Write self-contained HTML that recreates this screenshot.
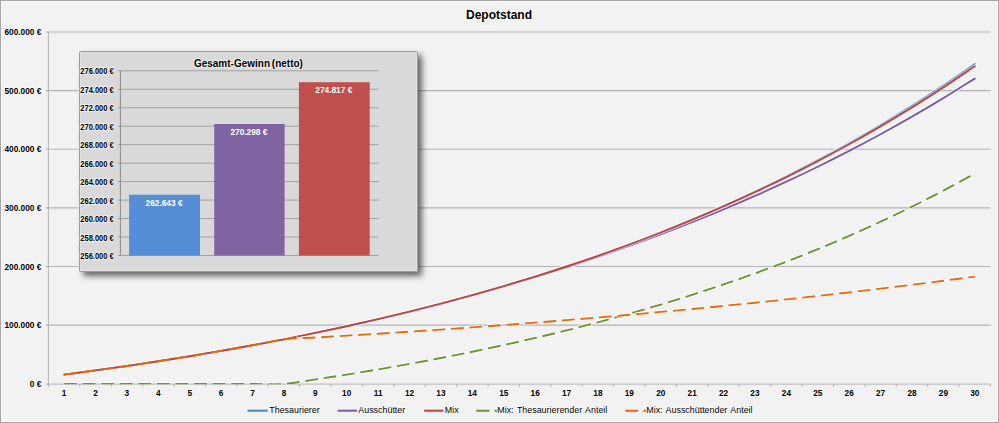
<!DOCTYPE html><html><head><meta charset="utf-8"><style>html,body{margin:0;padding:0;background:#f2f2f2;overflow:hidden}svg{display:block;}</style></head><body>
<svg width="999" height="423" viewBox="0 0 999 423" font-family="Liberation Sans, sans-serif">
<defs><filter id="sh" x="-10%" y="-10%" width="130%" height="130%"><feGaussianBlur in="SourceAlpha" stdDeviation="3.2"/><feOffset dx="4" dy="4" result="b"/><feComponentTransfer><feFuncA type="linear" slope="0.6"/></feComponentTransfer><feMerge><feMergeNode/><feMergeNode in="SourceGraphic"/></feMerge></filter><clipPath id="pc"><rect x="40" y="20" width="955" height="364.3"/></clipPath><clipPath id="oc"><rect x="296" y="20" width="700" height="364.3"/></clipPath></defs>
<rect x="0" y="0" width="999" height="423" fill="#f2f2f2"/>
<rect x="1.5" y="1.5" width="996" height="420" fill="none" stroke="#fbfbfb" stroke-width="1"/>
<rect x="0.5" y="0.5" width="998" height="422" fill="none" stroke="#a6a6a6" stroke-width="1"/>
<text transform="translate(499.00,18.60) scale(1,1)" text-anchor="middle" font-weight="bold" font-size="12" fill="#000" stroke="#ffffff" stroke-opacity="0.6" stroke-width="1.6" paint-order="stroke" stroke-linejoin="round">Depotstand</text>
<text transform="translate(41.30,386.98) scale(1,1.07)" text-anchor="end" font-weight="bold" font-size="8.3" fill="#000" stroke="#ffffff" stroke-opacity="0.6" stroke-width="1.6" paint-order="stroke" stroke-linejoin="round">0 €</text>
<line x1="45.9" y1="325.15" x2="990.5" y2="325.15" stroke="#b3b3b3" stroke-width="1.15"/>
<text transform="translate(41.30,328.35) scale(1,1.07)" text-anchor="end" font-weight="bold" font-size="8.3" fill="#000" stroke="#ffffff" stroke-opacity="0.6" stroke-width="1.6" paint-order="stroke" stroke-linejoin="round">100.000 €</text>
<line x1="45.9" y1="266.52" x2="990.5" y2="266.52" stroke="#b3b3b3" stroke-width="1.15"/>
<text transform="translate(41.30,269.72) scale(1,1.07)" text-anchor="end" font-weight="bold" font-size="8.3" fill="#000" stroke="#ffffff" stroke-opacity="0.6" stroke-width="1.6" paint-order="stroke" stroke-linejoin="round">200.000 €</text>
<line x1="45.9" y1="207.89" x2="990.5" y2="207.89" stroke="#b3b3b3" stroke-width="1.15"/>
<text transform="translate(41.30,211.09) scale(1,1.07)" text-anchor="end" font-weight="bold" font-size="8.3" fill="#000" stroke="#ffffff" stroke-opacity="0.6" stroke-width="1.6" paint-order="stroke" stroke-linejoin="round">300.000 €</text>
<line x1="45.9" y1="149.26" x2="990.5" y2="149.26" stroke="#b3b3b3" stroke-width="1.15"/>
<text transform="translate(41.30,152.46) scale(1,1.07)" text-anchor="end" font-weight="bold" font-size="8.3" fill="#000" stroke="#ffffff" stroke-opacity="0.6" stroke-width="1.6" paint-order="stroke" stroke-linejoin="round">400.000 €</text>
<line x1="45.9" y1="90.63" x2="990.5" y2="90.63" stroke="#b3b3b3" stroke-width="1.15"/>
<text transform="translate(41.30,93.83) scale(1,1.07)" text-anchor="end" font-weight="bold" font-size="8.3" fill="#000" stroke="#ffffff" stroke-opacity="0.6" stroke-width="1.6" paint-order="stroke" stroke-linejoin="round">500.000 €</text>
<line x1="45.9" y1="32.00" x2="990.5" y2="32.00" stroke="#b3b3b3" stroke-width="1.15"/>
<text transform="translate(41.30,35.20) scale(1,1.07)" text-anchor="end" font-weight="bold" font-size="8.3" fill="#000" stroke="#ffffff" stroke-opacity="0.6" stroke-width="1.6" paint-order="stroke" stroke-linejoin="round">600.000 €</text>
<line x1="48.35" y1="32.0" x2="48.35" y2="386.8" stroke="#b2b2b2" stroke-width="1"/>
<line x1="46" y1="384.1" x2="990.5" y2="384.1" stroke="#b2b2b2" stroke-width="1"/>
<line x1="48.40" y1="384.1" x2="48.40" y2="386.8" stroke="#b2b2b2" stroke-width="1"/>
<line x1="79.80" y1="384.1" x2="79.80" y2="386.8" stroke="#b2b2b2" stroke-width="1"/>
<line x1="111.21" y1="384.1" x2="111.21" y2="386.8" stroke="#b2b2b2" stroke-width="1"/>
<line x1="142.61" y1="384.1" x2="142.61" y2="386.8" stroke="#b2b2b2" stroke-width="1"/>
<line x1="174.01" y1="384.1" x2="174.01" y2="386.8" stroke="#b2b2b2" stroke-width="1"/>
<line x1="205.42" y1="384.1" x2="205.42" y2="386.8" stroke="#b2b2b2" stroke-width="1"/>
<line x1="236.82" y1="384.1" x2="236.82" y2="386.8" stroke="#b2b2b2" stroke-width="1"/>
<line x1="268.22" y1="384.1" x2="268.22" y2="386.8" stroke="#b2b2b2" stroke-width="1"/>
<line x1="299.63" y1="384.1" x2="299.63" y2="386.8" stroke="#b2b2b2" stroke-width="1"/>
<line x1="331.03" y1="384.1" x2="331.03" y2="386.8" stroke="#b2b2b2" stroke-width="1"/>
<line x1="362.43" y1="384.1" x2="362.43" y2="386.8" stroke="#b2b2b2" stroke-width="1"/>
<line x1="393.84" y1="384.1" x2="393.84" y2="386.8" stroke="#b2b2b2" stroke-width="1"/>
<line x1="425.24" y1="384.1" x2="425.24" y2="386.8" stroke="#b2b2b2" stroke-width="1"/>
<line x1="456.64" y1="384.1" x2="456.64" y2="386.8" stroke="#b2b2b2" stroke-width="1"/>
<line x1="488.05" y1="384.1" x2="488.05" y2="386.8" stroke="#b2b2b2" stroke-width="1"/>
<line x1="519.45" y1="384.1" x2="519.45" y2="386.8" stroke="#b2b2b2" stroke-width="1"/>
<line x1="550.85" y1="384.1" x2="550.85" y2="386.8" stroke="#b2b2b2" stroke-width="1"/>
<line x1="582.26" y1="384.1" x2="582.26" y2="386.8" stroke="#b2b2b2" stroke-width="1"/>
<line x1="613.66" y1="384.1" x2="613.66" y2="386.8" stroke="#b2b2b2" stroke-width="1"/>
<line x1="645.06" y1="384.1" x2="645.06" y2="386.8" stroke="#b2b2b2" stroke-width="1"/>
<line x1="676.47" y1="384.1" x2="676.47" y2="386.8" stroke="#b2b2b2" stroke-width="1"/>
<line x1="707.87" y1="384.1" x2="707.87" y2="386.8" stroke="#b2b2b2" stroke-width="1"/>
<line x1="739.27" y1="384.1" x2="739.27" y2="386.8" stroke="#b2b2b2" stroke-width="1"/>
<line x1="770.68" y1="384.1" x2="770.68" y2="386.8" stroke="#b2b2b2" stroke-width="1"/>
<line x1="802.08" y1="384.1" x2="802.08" y2="386.8" stroke="#b2b2b2" stroke-width="1"/>
<line x1="833.48" y1="384.1" x2="833.48" y2="386.8" stroke="#b2b2b2" stroke-width="1"/>
<line x1="864.89" y1="384.1" x2="864.89" y2="386.8" stroke="#b2b2b2" stroke-width="1"/>
<line x1="896.29" y1="384.1" x2="896.29" y2="386.8" stroke="#b2b2b2" stroke-width="1"/>
<line x1="927.69" y1="384.1" x2="927.69" y2="386.8" stroke="#b2b2b2" stroke-width="1"/>
<line x1="959.10" y1="384.1" x2="959.10" y2="386.8" stroke="#b2b2b2" stroke-width="1"/>
<line x1="990.50" y1="384.1" x2="990.50" y2="386.8" stroke="#b2b2b2" stroke-width="1"/>
<text transform="translate(64.10,396.40) scale(1,1.08)" text-anchor="middle" font-weight="bold" font-size="8.3" fill="#000" stroke="#ffffff" stroke-opacity="0.6" stroke-width="1.6" paint-order="stroke" stroke-linejoin="round">1</text>
<text transform="translate(95.50,396.40) scale(1,1.08)" text-anchor="middle" font-weight="bold" font-size="8.3" fill="#000" stroke="#ffffff" stroke-opacity="0.6" stroke-width="1.6" paint-order="stroke" stroke-linejoin="round">2</text>
<text transform="translate(126.91,396.40) scale(1,1.08)" text-anchor="middle" font-weight="bold" font-size="8.3" fill="#000" stroke="#ffffff" stroke-opacity="0.6" stroke-width="1.6" paint-order="stroke" stroke-linejoin="round">3</text>
<text transform="translate(158.31,396.40) scale(1,1.08)" text-anchor="middle" font-weight="bold" font-size="8.3" fill="#000" stroke="#ffffff" stroke-opacity="0.6" stroke-width="1.6" paint-order="stroke" stroke-linejoin="round">4</text>
<text transform="translate(189.72,396.40) scale(1,1.08)" text-anchor="middle" font-weight="bold" font-size="8.3" fill="#000" stroke="#ffffff" stroke-opacity="0.6" stroke-width="1.6" paint-order="stroke" stroke-linejoin="round">5</text>
<text transform="translate(221.12,396.40) scale(1,1.08)" text-anchor="middle" font-weight="bold" font-size="8.3" fill="#000" stroke="#ffffff" stroke-opacity="0.6" stroke-width="1.6" paint-order="stroke" stroke-linejoin="round">6</text>
<text transform="translate(252.52,396.40) scale(1,1.08)" text-anchor="middle" font-weight="bold" font-size="8.3" fill="#000" stroke="#ffffff" stroke-opacity="0.6" stroke-width="1.6" paint-order="stroke" stroke-linejoin="round">7</text>
<text transform="translate(283.93,396.40) scale(1,1.08)" text-anchor="middle" font-weight="bold" font-size="8.3" fill="#000" stroke="#ffffff" stroke-opacity="0.6" stroke-width="1.6" paint-order="stroke" stroke-linejoin="round">8</text>
<text transform="translate(315.33,396.40) scale(1,1.08)" text-anchor="middle" font-weight="bold" font-size="8.3" fill="#000" stroke="#ffffff" stroke-opacity="0.6" stroke-width="1.6" paint-order="stroke" stroke-linejoin="round">9</text>
<text transform="translate(346.73,396.40) scale(1,1.08)" text-anchor="middle" font-weight="bold" font-size="8.3" fill="#000" stroke="#ffffff" stroke-opacity="0.6" stroke-width="1.6" paint-order="stroke" stroke-linejoin="round">10</text>
<text transform="translate(378.13,396.40) scale(1,1.08)" text-anchor="middle" font-weight="bold" font-size="8.3" fill="#000" stroke="#ffffff" stroke-opacity="0.6" stroke-width="1.6" paint-order="stroke" stroke-linejoin="round">11</text>
<text transform="translate(409.54,396.40) scale(1,1.08)" text-anchor="middle" font-weight="bold" font-size="8.3" fill="#000" stroke="#ffffff" stroke-opacity="0.6" stroke-width="1.6" paint-order="stroke" stroke-linejoin="round">12</text>
<text transform="translate(440.94,396.40) scale(1,1.08)" text-anchor="middle" font-weight="bold" font-size="8.3" fill="#000" stroke="#ffffff" stroke-opacity="0.6" stroke-width="1.6" paint-order="stroke" stroke-linejoin="round">13</text>
<text transform="translate(472.34,396.40) scale(1,1.08)" text-anchor="middle" font-weight="bold" font-size="8.3" fill="#000" stroke="#ffffff" stroke-opacity="0.6" stroke-width="1.6" paint-order="stroke" stroke-linejoin="round">14</text>
<text transform="translate(503.75,396.40) scale(1,1.08)" text-anchor="middle" font-weight="bold" font-size="8.3" fill="#000" stroke="#ffffff" stroke-opacity="0.6" stroke-width="1.6" paint-order="stroke" stroke-linejoin="round">15</text>
<text transform="translate(535.15,396.40) scale(1,1.08)" text-anchor="middle" font-weight="bold" font-size="8.3" fill="#000" stroke="#ffffff" stroke-opacity="0.6" stroke-width="1.6" paint-order="stroke" stroke-linejoin="round">16</text>
<text transform="translate(566.55,396.40) scale(1,1.08)" text-anchor="middle" font-weight="bold" font-size="8.3" fill="#000" stroke="#ffffff" stroke-opacity="0.6" stroke-width="1.6" paint-order="stroke" stroke-linejoin="round">17</text>
<text transform="translate(597.96,396.40) scale(1,1.08)" text-anchor="middle" font-weight="bold" font-size="8.3" fill="#000" stroke="#ffffff" stroke-opacity="0.6" stroke-width="1.6" paint-order="stroke" stroke-linejoin="round">18</text>
<text transform="translate(629.36,396.40) scale(1,1.08)" text-anchor="middle" font-weight="bold" font-size="8.3" fill="#000" stroke="#ffffff" stroke-opacity="0.6" stroke-width="1.6" paint-order="stroke" stroke-linejoin="round">19</text>
<text transform="translate(660.76,396.40) scale(1,1.08)" text-anchor="middle" font-weight="bold" font-size="8.3" fill="#000" stroke="#ffffff" stroke-opacity="0.6" stroke-width="1.6" paint-order="stroke" stroke-linejoin="round">20</text>
<text transform="translate(692.17,396.40) scale(1,1.08)" text-anchor="middle" font-weight="bold" font-size="8.3" fill="#000" stroke="#ffffff" stroke-opacity="0.6" stroke-width="1.6" paint-order="stroke" stroke-linejoin="round">21</text>
<text transform="translate(723.57,396.40) scale(1,1.08)" text-anchor="middle" font-weight="bold" font-size="8.3" fill="#000" stroke="#ffffff" stroke-opacity="0.6" stroke-width="1.6" paint-order="stroke" stroke-linejoin="round">22</text>
<text transform="translate(754.97,396.40) scale(1,1.08)" text-anchor="middle" font-weight="bold" font-size="8.3" fill="#000" stroke="#ffffff" stroke-opacity="0.6" stroke-width="1.6" paint-order="stroke" stroke-linejoin="round">23</text>
<text transform="translate(786.38,396.40) scale(1,1.08)" text-anchor="middle" font-weight="bold" font-size="8.3" fill="#000" stroke="#ffffff" stroke-opacity="0.6" stroke-width="1.6" paint-order="stroke" stroke-linejoin="round">24</text>
<text transform="translate(817.78,396.40) scale(1,1.08)" text-anchor="middle" font-weight="bold" font-size="8.3" fill="#000" stroke="#ffffff" stroke-opacity="0.6" stroke-width="1.6" paint-order="stroke" stroke-linejoin="round">25</text>
<text transform="translate(849.18,396.40) scale(1,1.08)" text-anchor="middle" font-weight="bold" font-size="8.3" fill="#000" stroke="#ffffff" stroke-opacity="0.6" stroke-width="1.6" paint-order="stroke" stroke-linejoin="round">26</text>
<text transform="translate(880.59,396.40) scale(1,1.08)" text-anchor="middle" font-weight="bold" font-size="8.3" fill="#000" stroke="#ffffff" stroke-opacity="0.6" stroke-width="1.6" paint-order="stroke" stroke-linejoin="round">27</text>
<text transform="translate(911.99,396.40) scale(1,1.08)" text-anchor="middle" font-weight="bold" font-size="8.3" fill="#000" stroke="#ffffff" stroke-opacity="0.6" stroke-width="1.6" paint-order="stroke" stroke-linejoin="round">28</text>
<text transform="translate(943.39,396.40) scale(1,1.08)" text-anchor="middle" font-weight="bold" font-size="8.3" fill="#000" stroke="#ffffff" stroke-opacity="0.6" stroke-width="1.6" paint-order="stroke" stroke-linejoin="round">29</text>
<text transform="translate(974.80,396.40) scale(1,1.08)" text-anchor="middle" font-weight="bold" font-size="8.3" fill="#000" stroke="#ffffff" stroke-opacity="0.6" stroke-width="1.6" paint-order="stroke" stroke-linejoin="round">30</text>
<g clip-path="url(#pc)">
<path d="M64.10,374.63 C69.34,373.93 85.04,371.87 95.50,370.43 C105.97,368.98 116.44,367.50 126.91,365.97 C137.38,364.43 147.84,362.86 158.31,361.24 C168.78,359.61 179.25,357.94 189.72,356.22 C200.18,354.50 210.65,352.73 221.12,350.91 C231.59,349.08 242.05,347.21 252.52,345.27 C262.99,343.33 273.46,341.35 283.93,339.29 C294.39,337.24 304.86,335.13 315.33,332.96 C325.80,330.78 336.26,328.55 346.73,326.24 C357.20,323.93 367.67,321.57 378.13,319.12 C388.60,316.68 399.07,314.16 409.54,311.57 C420.01,308.98 430.47,306.31 440.94,303.57 C451.41,300.82 461.88,297.99 472.34,295.08 C482.81,292.16 493.28,289.17 503.75,286.08 C514.22,282.98 524.68,279.81 535.15,276.53 C545.62,273.25 556.09,269.88 566.55,266.41 C577.02,262.93 587.49,259.36 597.96,255.68 C608.43,251.99 618.89,248.21 629.36,244.30 C639.83,240.39 650.30,236.38 660.76,232.24 C671.23,228.09 681.70,223.84 692.17,219.45 C702.64,215.06 713.10,210.55 723.57,205.90 C734.04,201.24 744.51,196.46 754.97,191.53 C765.44,186.60 775.91,181.53 786.38,176.31 C796.85,171.08 807.31,165.71 817.78,160.18 C828.25,154.64 838.72,148.95 849.18,143.09 C859.65,137.22 870.12,131.20 880.59,124.98 C891.06,118.77 901.52,112.38 911.99,105.80 C922.46,99.22 932.93,92.46 943.39,85.49 C953.86,78.51 969.56,67.56 974.80,63.97" fill="none" stroke="#ffffff" stroke-opacity="0.55" stroke-width="3.85" stroke-linecap="round" stroke-linejoin="round"/>
<path d="M64.10,374.63 C69.34,373.93 85.04,371.87 95.50,370.43 C105.97,368.98 116.44,367.50 126.91,365.97 C137.38,364.43 147.84,362.86 158.31,361.24 C168.78,359.61 179.25,357.94 189.72,356.22 C200.18,354.50 210.65,352.73 221.12,350.91 C231.59,349.08 242.05,347.21 252.52,345.27 C262.99,343.33 273.46,341.35 283.93,339.29 C294.39,337.24 304.86,335.13 315.33,332.96 C325.80,330.78 336.26,328.55 346.73,326.24 C357.20,323.93 367.67,321.57 378.13,319.12 C388.60,316.68 399.07,314.16 409.54,311.57 C420.01,308.98 430.47,306.31 440.94,303.57 C451.41,300.82 461.88,297.99 472.34,295.08 C482.81,292.16 493.28,289.17 503.75,286.08 C514.22,282.98 524.68,279.81 535.15,276.53 C545.62,273.25 556.09,269.88 566.55,266.41 C577.02,262.93 587.49,259.36 597.96,255.68 C608.43,251.99 618.89,248.21 629.36,244.30 C639.83,240.39 650.30,236.38 660.76,232.24 C671.23,228.09 681.70,223.84 692.17,219.45 C702.64,215.06 713.10,210.55 723.57,205.90 C734.04,201.24 744.51,196.46 754.97,191.53 C765.44,186.60 775.91,181.53 786.38,176.31 C796.85,171.08 807.31,165.71 817.78,160.18 C828.25,154.64 838.72,148.95 849.18,143.09 C859.65,137.22 870.12,131.20 880.59,124.98 C891.06,118.77 901.52,112.38 911.99,105.80 C922.46,99.22 932.93,92.46 943.39,85.49 C953.86,78.51 969.56,67.56 974.80,63.97" fill="none" stroke="#4484d4" stroke-width="1.85" stroke-linecap="round" stroke-linejoin="round"/>
<path d="M64.10,374.63 C69.34,373.93 85.04,371.87 95.50,370.43 C105.97,368.98 116.44,367.50 126.91,365.97 C137.38,364.43 147.84,362.86 158.31,361.24 C168.78,359.61 179.25,357.94 189.72,356.22 C200.18,354.50 210.65,352.73 221.12,350.91 C231.59,349.08 242.05,347.21 252.52,345.27 C262.99,343.33 273.46,341.35 283.93,339.29 C294.39,337.24 304.86,335.13 315.33,332.96 C325.80,330.78 336.26,328.55 346.73,326.25 C357.20,323.95 367.67,321.58 378.13,319.15 C388.60,316.71 399.07,314.21 409.54,311.64 C420.01,309.06 430.47,306.42 440.94,303.70 C451.41,300.98 461.88,298.19 472.34,295.32 C482.81,292.45 493.28,289.50 503.75,286.47 C514.22,283.44 524.68,280.33 535.15,277.14 C545.62,273.94 556.09,270.66 566.55,267.29 C577.02,263.92 587.49,260.46 597.96,256.91 C608.43,253.35 618.89,249.71 629.36,245.96 C639.83,242.21 650.30,238.37 660.76,234.42 C671.23,230.47 681.70,226.43 692.17,222.26 C702.64,218.10 713.10,213.83 723.57,209.45 C734.04,205.06 744.51,200.57 754.97,195.94 C765.44,191.32 775.91,186.58 786.38,181.71 C796.85,176.84 807.31,171.85 817.78,166.71 C828.25,161.58 838.72,156.32 849.18,150.90 C859.65,145.49 870.12,139.94 880.59,134.24 C891.06,128.53 901.52,122.69 911.99,116.67 C922.46,110.65 932.93,104.49 943.39,98.14 C953.86,91.80 969.56,81.86 974.80,78.61" fill="none" stroke="#ffffff" stroke-opacity="0.55" stroke-width="3.85" stroke-linecap="round" stroke-linejoin="round"/>
<path d="M64.10,374.63 C69.34,373.93 85.04,371.87 95.50,370.43 C105.97,368.98 116.44,367.50 126.91,365.97 C137.38,364.43 147.84,362.86 158.31,361.24 C168.78,359.61 179.25,357.94 189.72,356.22 C200.18,354.50 210.65,352.73 221.12,350.91 C231.59,349.08 242.05,347.21 252.52,345.27 C262.99,343.33 273.46,341.35 283.93,339.29 C294.39,337.24 304.86,335.13 315.33,332.96 C325.80,330.78 336.26,328.55 346.73,326.25 C357.20,323.95 367.67,321.58 378.13,319.15 C388.60,316.71 399.07,314.21 409.54,311.64 C420.01,309.06 430.47,306.42 440.94,303.70 C451.41,300.98 461.88,298.19 472.34,295.32 C482.81,292.45 493.28,289.50 503.75,286.47 C514.22,283.44 524.68,280.33 535.15,277.14 C545.62,273.94 556.09,270.66 566.55,267.29 C577.02,263.92 587.49,260.46 597.96,256.91 C608.43,253.35 618.89,249.71 629.36,245.96 C639.83,242.21 650.30,238.37 660.76,234.42 C671.23,230.47 681.70,226.43 692.17,222.26 C702.64,218.10 713.10,213.83 723.57,209.45 C734.04,205.06 744.51,200.57 754.97,195.94 C765.44,191.32 775.91,186.58 786.38,181.71 C796.85,176.84 807.31,171.85 817.78,166.71 C828.25,161.58 838.72,156.32 849.18,150.90 C859.65,145.49 870.12,139.94 880.59,134.24 C891.06,128.53 901.52,122.69 911.99,116.67 C922.46,110.65 932.93,104.49 943.39,98.14 C953.86,91.80 969.56,81.86 974.80,78.61" fill="none" stroke="#7b5aa6" stroke-width="1.85" stroke-linecap="round" stroke-linejoin="round"/>
<path d="M64.10,374.63 C69.34,373.93 85.04,371.87 95.50,370.43 C105.97,368.98 116.44,367.50 126.91,365.97 C137.38,364.43 147.84,362.86 158.31,361.24 C168.78,359.61 179.25,357.94 189.72,356.22 C200.18,354.50 210.65,352.73 221.12,350.91 C231.59,349.08 242.05,347.21 252.52,345.27 C262.99,343.33 273.46,341.35 283.93,339.29 C294.39,337.24 304.86,335.13 315.33,332.96 C325.80,330.78 336.26,328.55 346.73,326.24 C357.20,323.93 367.67,321.57 378.13,319.12 C388.60,316.68 399.07,314.16 409.54,311.57 C420.01,308.98 430.47,306.32 440.94,303.57 C451.41,300.83 461.88,298.00 472.34,295.09 C482.81,292.18 493.28,289.19 503.75,286.11 C514.22,283.03 524.68,279.86 535.15,276.59 C545.62,273.32 556.09,269.97 566.55,266.50 C577.02,263.04 587.49,259.49 597.96,255.82 C608.43,252.15 618.89,248.38 629.36,244.50 C639.83,240.61 650.30,236.63 660.76,232.51 C671.23,228.40 681.70,224.17 692.17,219.82 C702.64,215.46 713.10,210.98 723.57,206.37 C734.04,201.76 744.51,197.02 754.97,192.14 C765.44,187.25 775.91,182.23 786.38,177.06 C796.85,171.89 807.31,166.58 817.78,161.11 C828.25,155.63 838.72,150.01 849.18,144.21 C859.65,138.42 870.12,132.47 880.59,126.33 C891.06,120.20 901.52,113.90 911.99,107.41 C922.46,100.91 932.93,94.24 943.39,87.37 C953.86,80.50 969.56,69.70 974.80,66.17" fill="none" stroke="#ffffff" stroke-opacity="0.55" stroke-width="3.85" stroke-linecap="round" stroke-linejoin="round"/>
<path d="M64.10,374.63 C69.34,373.93 85.04,371.87 95.50,370.43 C105.97,368.98 116.44,367.50 126.91,365.97 C137.38,364.43 147.84,362.86 158.31,361.24 C168.78,359.61 179.25,357.94 189.72,356.22 C200.18,354.50 210.65,352.73 221.12,350.91 C231.59,349.08 242.05,347.21 252.52,345.27 C262.99,343.33 273.46,341.35 283.93,339.29 C294.39,337.24 304.86,335.13 315.33,332.96 C325.80,330.78 336.26,328.55 346.73,326.24 C357.20,323.93 367.67,321.57 378.13,319.12 C388.60,316.68 399.07,314.16 409.54,311.57 C420.01,308.98 430.47,306.32 440.94,303.57 C451.41,300.83 461.88,298.00 472.34,295.09 C482.81,292.18 493.28,289.19 503.75,286.11 C514.22,283.03 524.68,279.86 535.15,276.59 C545.62,273.32 556.09,269.97 566.55,266.50 C577.02,263.04 587.49,259.49 597.96,255.82 C608.43,252.15 618.89,248.38 629.36,244.50 C639.83,240.61 650.30,236.63 660.76,232.51 C671.23,228.40 681.70,224.17 692.17,219.82 C702.64,215.46 713.10,210.98 723.57,206.37 C734.04,201.76 744.51,197.02 754.97,192.14 C765.44,187.25 775.91,182.23 786.38,177.06 C796.85,171.89 807.31,166.58 817.78,161.11 C828.25,155.63 838.72,150.01 849.18,144.21 C859.65,138.42 870.12,132.47 880.59,126.33 C891.06,120.20 901.52,113.90 911.99,107.41 C922.46,100.91 932.93,94.24 943.39,87.37 C953.86,80.50 969.56,69.70 974.80,66.17" fill="none" stroke="#c0443f" stroke-width="1.85" stroke-linecap="round" stroke-linejoin="round"/>
<path d="M64.10,384.00 C69.34,384.00 85.04,384.00 95.50,384.00 C105.97,384.00 116.44,384.00 126.91,384.00 C137.38,384.00 147.84,384.00 158.31,384.00 C168.78,384.00 179.25,384.00 189.72,384.00 C200.18,384.00 210.65,384.00 221.12,384.00 C231.59,384.00 242.05,384.00 252.52,384.00 C262.99,384.00 273.46,384.76 283.93,384.00 C294.39,383.24 304.86,380.99 315.33,379.41 C325.80,377.84 336.26,376.24 346.73,374.57 C357.20,372.90 367.67,371.18 378.13,369.40 C388.60,367.62 399.07,365.78 409.54,363.89 C420.01,361.99 430.47,360.03 440.94,358.01 C451.41,355.99 461.88,353.90 472.34,351.75 C482.81,349.59 493.28,347.37 503.75,345.07 C514.22,342.77 524.68,340.41 535.15,337.96 C545.62,335.51 556.09,332.99 566.55,330.38 C577.02,327.77 587.49,325.09 597.96,322.31 C608.43,319.53 618.89,316.67 629.36,313.71 C639.83,310.76 650.30,307.71 660.76,304.56 C671.23,301.41 681.70,298.17 692.17,294.82 C702.64,291.46 713.10,288.01 723.57,284.44 C734.04,280.87 744.51,277.20 754.97,273.40 C765.44,269.60 775.91,265.69 786.38,261.65 C796.85,257.61 807.31,253.45 817.78,249.15 C828.25,244.84 838.72,240.42 849.18,235.84 C859.65,231.27 870.12,226.56 880.59,221.69 C891.06,216.82 901.52,211.81 911.99,206.63 C922.46,201.45 932.93,196.13 943.39,190.62 C953.86,185.11 969.56,176.43 974.80,173.59" fill="none" stroke="#ffffff" stroke-opacity="0.55" stroke-width="3.85" stroke-dasharray="14.8 3.77" stroke-dashoffset="1" stroke-linecap="butt"/>
<path d="M64.10,384.00 C69.34,384.00 85.04,384.00 95.50,384.00 C105.97,384.00 116.44,384.00 126.91,384.00 C137.38,384.00 147.84,384.00 158.31,384.00 C168.78,384.00 179.25,384.00 189.72,384.00 C200.18,384.00 210.65,384.00 221.12,384.00 C231.59,384.00 242.05,384.00 252.52,384.00 C262.99,384.00 273.46,384.76 283.93,384.00 C294.39,383.24 304.86,380.99 315.33,379.41 C325.80,377.84 336.26,376.24 346.73,374.57 C357.20,372.90 367.67,371.18 378.13,369.40 C388.60,367.62 399.07,365.78 409.54,363.89 C420.01,361.99 430.47,360.03 440.94,358.01 C451.41,355.99 461.88,353.90 472.34,351.75 C482.81,349.59 493.28,347.37 503.75,345.07 C514.22,342.77 524.68,340.41 535.15,337.96 C545.62,335.51 556.09,332.99 566.55,330.38 C577.02,327.77 587.49,325.09 597.96,322.31 C608.43,319.53 618.89,316.67 629.36,313.71 C639.83,310.76 650.30,307.71 660.76,304.56 C671.23,301.41 681.70,298.17 692.17,294.82 C702.64,291.46 713.10,288.01 723.57,284.44 C734.04,280.87 744.51,277.20 754.97,273.40 C765.44,269.60 775.91,265.69 786.38,261.65 C796.85,257.61 807.31,253.45 817.78,249.15 C828.25,244.84 838.72,240.42 849.18,235.84 C859.65,231.27 870.12,226.56 880.59,221.69 C891.06,216.82 901.52,211.81 911.99,206.63 C922.46,201.45 932.93,196.13 943.39,190.62 C953.86,185.11 969.56,176.43 974.80,173.59" fill="none" stroke="#6f9232" stroke-width="1.85" stroke-dasharray="12.8 5.77" stroke-linecap="butt"/>
<path clip-path="url(#oc)" d="M64.10,374.63 C69.34,373.93 85.04,371.87 95.50,370.43 C105.97,368.98 116.44,367.50 126.91,365.97 C137.38,364.43 147.84,362.86 158.31,361.24 C168.78,359.61 179.25,357.94 189.72,356.22 C200.18,354.50 210.65,352.73 221.12,350.91 C231.59,349.08 242.05,347.21 252.52,345.27 C262.99,343.33 273.46,340.58 283.93,339.29 C294.39,338.01 304.86,338.15 315.33,337.54 C325.80,336.94 336.26,336.31 346.73,335.67 C357.20,335.04 367.67,334.39 378.13,333.72 C388.60,333.06 399.07,332.38 409.54,331.69 C420.01,330.99 430.47,330.29 440.94,329.56 C451.41,328.84 461.88,328.10 472.34,327.35 C482.81,326.60 493.28,325.83 503.75,325.04 C514.22,324.25 524.68,323.45 535.15,322.63 C545.62,321.81 556.09,320.98 566.55,320.12 C577.02,319.27 587.49,318.40 597.96,317.51 C608.43,316.62 618.89,315.71 629.36,314.78 C639.83,313.86 650.30,312.91 660.76,311.95 C671.23,310.99 681.70,310.00 692.17,309.00 C702.64,307.99 713.10,306.97 723.57,305.93 C734.04,304.88 744.51,303.82 754.97,302.73 C765.44,301.65 775.91,300.54 786.38,299.41 C796.85,298.28 807.31,297.13 817.78,295.96 C828.25,294.79 838.72,293.59 849.18,292.37 C859.65,291.15 870.12,289.91 880.59,288.64 C891.06,287.38 901.52,286.09 911.99,284.77 C922.46,283.46 932.93,282.12 943.39,280.75 C953.86,279.39 969.56,277.28 974.80,276.58" fill="none" stroke="#ffffff" stroke-opacity="0.55" stroke-width="3.85" stroke-dasharray="14.8 3.77" stroke-dashoffset="1" stroke-linecap="butt"/>
<path d="M64.10,374.63 C69.34,373.93 85.04,371.87 95.50,370.43 C105.97,368.98 116.44,367.50 126.91,365.97 C137.38,364.43 147.84,362.86 158.31,361.24 C168.78,359.61 179.25,357.94 189.72,356.22 C200.18,354.50 210.65,352.73 221.12,350.91 C231.59,349.08 242.05,347.21 252.52,345.27 C262.99,343.33 273.46,340.58 283.93,339.29 C294.39,338.01 304.86,338.15 315.33,337.54 C325.80,336.94 336.26,336.31 346.73,335.67 C357.20,335.04 367.67,334.39 378.13,333.72 C388.60,333.06 399.07,332.38 409.54,331.69 C420.01,330.99 430.47,330.29 440.94,329.56 C451.41,328.84 461.88,328.10 472.34,327.35 C482.81,326.60 493.28,325.83 503.75,325.04 C514.22,324.25 524.68,323.45 535.15,322.63 C545.62,321.81 556.09,320.98 566.55,320.12 C577.02,319.27 587.49,318.40 597.96,317.51 C608.43,316.62 618.89,315.71 629.36,314.78 C639.83,313.86 650.30,312.91 660.76,311.95 C671.23,310.99 681.70,310.00 692.17,309.00 C702.64,307.99 713.10,306.97 723.57,305.93 C734.04,304.88 744.51,303.82 754.97,302.73 C765.44,301.65 775.91,300.54 786.38,299.41 C796.85,298.28 807.31,297.13 817.78,295.96 C828.25,294.79 838.72,293.59 849.18,292.37 C859.65,291.15 870.12,289.91 880.59,288.64 C891.06,287.38 901.52,286.09 911.99,284.77 C922.46,283.46 932.93,282.12 943.39,280.75 C953.86,279.39 969.56,277.28 974.80,276.58" fill="none" stroke="#e46c0a" stroke-width="1.85" stroke-dasharray="12.8 5.77" stroke-linecap="butt"/>
</g>
<line x1="247.5" y1="410.7" x2="267.8" y2="410.7" stroke="#4484d4" stroke-width="2.0"/>
<text transform="translate(269.30,413.20) scale(1,1.08)" font-size="8.9" fill="#000" stroke="#ffffff" stroke-opacity="0.6" stroke-width="1.6" paint-order="stroke" stroke-linejoin="round" word-spacing="1">Thesaurierer</text>
<line x1="337.6" y1="410.7" x2="357.1" y2="410.7" stroke="#7b5aa6" stroke-width="2.0"/>
<text transform="translate(358.30,413.20) scale(1,1.08)" font-size="8.9" fill="#000" stroke="#ffffff" stroke-opacity="0.6" stroke-width="1.6" paint-order="stroke" stroke-linejoin="round" word-spacing="1">Ausschütter</text>
<line x1="424.1" y1="410.7" x2="443.4" y2="410.7" stroke="#c0443f" stroke-width="2.0"/>
<text transform="translate(444.80,413.20) scale(1,1.08)" font-size="8.9" fill="#000" stroke="#ffffff" stroke-opacity="0.6" stroke-width="1.6" paint-order="stroke" stroke-linejoin="round" word-spacing="1">Mix</text>
<line x1="476.4" y1="410.7" x2="497.6" y2="410.7" stroke="#6f9232" stroke-width="2.0" stroke-dasharray="13 5.2"/>
<text transform="translate(497.30,413.20) scale(1,1.08)" font-size="8.9" fill="#000" stroke="#ffffff" stroke-opacity="0.6" stroke-width="1.6" paint-order="stroke" stroke-linejoin="round" word-spacing="1">Mix: Thesaurierender Anteil</text>
<line x1="625.2" y1="410.7" x2="646.4" y2="410.7" stroke="#e46c0a" stroke-width="2.0" stroke-dasharray="13 5.2"/>
<text transform="translate(646.30,413.20) scale(1,1.08)" font-size="8.9" fill="#000" stroke="#ffffff" stroke-opacity="0.6" stroke-width="1.6" paint-order="stroke" stroke-linejoin="round" word-spacing="1">Mix: Ausschüttender Anteil</text>
<rect x="78.5" y="50.5" width="340" height="222" fill="none" stroke="#fafafa" stroke-width="1"/>
<g filter="url(#sh)"><rect x="79.5" y="51.5" width="338" height="220" rx="1" fill="#d9d9d9" stroke="#9a9a9a" stroke-width="1"/></g>
<rect x="80.5" y="52.5" width="336" height="218" fill="none" stroke="#e2e2e2" stroke-width="1"/>
<text transform="translate(248.40,66.80) scale(1,1)" text-anchor="middle" font-weight="bold" font-size="10" fill="#000" stroke="#ffffff" stroke-opacity="0.6" stroke-width="1.6" paint-order="stroke" stroke-linejoin="round" word-spacing="-1">Gesamt-Gewinn (netto)</text>
<line x1="117.9" y1="255.50" x2="378.6" y2="255.50" stroke="#a0a0a0" stroke-width="1"/>
<text transform="translate(113.80,259.00) scale(1,1.15)" text-anchor="end" font-weight="bold" font-size="7.55" fill="#000" stroke="#ffffff" stroke-opacity="0.6" stroke-width="1.6" paint-order="stroke" stroke-linejoin="round">256.000 €</text>
<line x1="117.9" y1="237.03" x2="378.6" y2="237.03" stroke="#a0a0a0" stroke-width="1"/>
<text transform="translate(113.80,240.53) scale(1,1.15)" text-anchor="end" font-weight="bold" font-size="7.55" fill="#000" stroke="#ffffff" stroke-opacity="0.6" stroke-width="1.6" paint-order="stroke" stroke-linejoin="round">258.000 €</text>
<line x1="117.9" y1="218.56" x2="378.6" y2="218.56" stroke="#a0a0a0" stroke-width="1"/>
<text transform="translate(113.80,222.06) scale(1,1.15)" text-anchor="end" font-weight="bold" font-size="7.55" fill="#000" stroke="#ffffff" stroke-opacity="0.6" stroke-width="1.6" paint-order="stroke" stroke-linejoin="round">260.000 €</text>
<line x1="117.9" y1="200.09" x2="378.6" y2="200.09" stroke="#a0a0a0" stroke-width="1"/>
<text transform="translate(113.80,203.59) scale(1,1.15)" text-anchor="end" font-weight="bold" font-size="7.55" fill="#000" stroke="#ffffff" stroke-opacity="0.6" stroke-width="1.6" paint-order="stroke" stroke-linejoin="round">262.000 €</text>
<line x1="117.9" y1="181.62" x2="378.6" y2="181.62" stroke="#a0a0a0" stroke-width="1"/>
<text transform="translate(113.80,185.12) scale(1,1.15)" text-anchor="end" font-weight="bold" font-size="7.55" fill="#000" stroke="#ffffff" stroke-opacity="0.6" stroke-width="1.6" paint-order="stroke" stroke-linejoin="round">264.000 €</text>
<line x1="117.9" y1="163.15" x2="378.6" y2="163.15" stroke="#a0a0a0" stroke-width="1"/>
<text transform="translate(113.80,166.65) scale(1,1.15)" text-anchor="end" font-weight="bold" font-size="7.55" fill="#000" stroke="#ffffff" stroke-opacity="0.6" stroke-width="1.6" paint-order="stroke" stroke-linejoin="round">266.000 €</text>
<line x1="117.9" y1="144.68" x2="378.6" y2="144.68" stroke="#a0a0a0" stroke-width="1"/>
<text transform="translate(113.80,148.18) scale(1,1.15)" text-anchor="end" font-weight="bold" font-size="7.55" fill="#000" stroke="#ffffff" stroke-opacity="0.6" stroke-width="1.6" paint-order="stroke" stroke-linejoin="round">268.000 €</text>
<line x1="117.9" y1="126.21" x2="378.6" y2="126.21" stroke="#a0a0a0" stroke-width="1"/>
<text transform="translate(113.80,129.71) scale(1,1.15)" text-anchor="end" font-weight="bold" font-size="7.55" fill="#000" stroke="#ffffff" stroke-opacity="0.6" stroke-width="1.6" paint-order="stroke" stroke-linejoin="round">270.000 €</text>
<line x1="117.9" y1="107.74" x2="378.6" y2="107.74" stroke="#a0a0a0" stroke-width="1"/>
<text transform="translate(113.80,111.24) scale(1,1.15)" text-anchor="end" font-weight="bold" font-size="7.55" fill="#000" stroke="#ffffff" stroke-opacity="0.6" stroke-width="1.6" paint-order="stroke" stroke-linejoin="round">272.000 €</text>
<line x1="117.9" y1="89.27" x2="378.6" y2="89.27" stroke="#a0a0a0" stroke-width="1"/>
<text transform="translate(113.80,92.77) scale(1,1.15)" text-anchor="end" font-weight="bold" font-size="7.55" fill="#000" stroke="#ffffff" stroke-opacity="0.6" stroke-width="1.6" paint-order="stroke" stroke-linejoin="round">274.000 €</text>
<line x1="117.9" y1="70.80" x2="378.6" y2="70.80" stroke="#a0a0a0" stroke-width="1"/>
<text transform="translate(113.80,74.30) scale(1,1.15)" text-anchor="end" font-weight="bold" font-size="7.55" fill="#000" stroke="#ffffff" stroke-opacity="0.6" stroke-width="1.6" paint-order="stroke" stroke-linejoin="round">276.000 €</text>
<line x1="120.4" y1="70.8" x2="120.4" y2="255.5" stroke="#8c8c8c" stroke-width="1"/>
<rect x="129.1" y="194.7" width="70.9" height="60.8" fill="#558ed5"/>
<text transform="translate(164.05,205.65) scale(1,1.1)" text-anchor="middle" font-weight="bold" font-size="8.3" fill="#fff">262.643 €</text>
<rect x="214.2" y="124.0" width="70.4" height="131.5" fill="#8064a2"/>
<text transform="translate(248.90,134.96) scale(1,1.1)" text-anchor="middle" font-weight="bold" font-size="8.3" fill="#fff">270.298 €</text>
<rect x="298.9" y="82.2" width="70.8" height="173.3" fill="#c0504d"/>
<text transform="translate(333.80,93.23) scale(1,1.1)" text-anchor="middle" font-weight="bold" font-size="8.3" fill="#fff">274.817 €</text>
</svg></body></html>
